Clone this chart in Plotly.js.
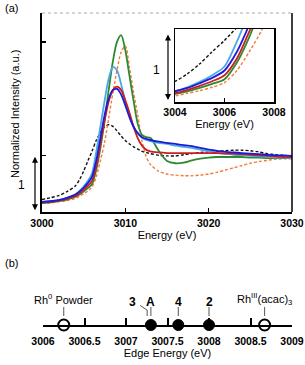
<!DOCTYPE html>
<html>
<head>
<meta charset="utf-8">
<script src="https://cdn.plot.ly/plotly-3.0.1.min.js"></script>
<style>
html,body{margin:0;padding:0;background:#fff;}
#wrap{position:relative;width:305px;height:365px;}
#chart{position:absolute;left:0;top:0;width:305px;height:365px;}
#inset{position:absolute;left:150px;top:25px;width:140px;height:110px;}
</style>
</head>
<body>
<div id="wrap"><div id="chart"></div><div id="inset"></div></div>
<script>
// ---- Data ----
var energy = [3000,3001,3002,3003,3004,3004.5,3005,3005.5,3006,3006.5,3007,3007.5,3008,3008.5,3009,3009.5,3010,3010.5,3011,3011.5,3012,3012.5,3013,3014,3015,3016,3017,3018,3019,3020,3021,3022,3023,3024,3025,3026,3027,3028,3029,3030];

var rh0Powder = [0.22,0.25,0.29,0.36,0.46, 0.57,0.72,0.90,1.07,1.26,1.40,1.50,1.54,1.51,1.43,1.34,1.26,1.20,1.15,1.11,1.07,1.05, 1.03,1.00,0.99,0.99,1.01,1.03,1.05,1.06,1.07,1.08,1.09,1.09,1.08,1.06,1.03,1.01,1.00,0.99];
var seriesSky = [0.18,0.19,0.21,0.25,0.31, 0.37,0.45,0.55,0.68,1.05,1.50,1.95,2.35,2.56,2.50,2.25,1.95,1.70,1.50,1.38,1.31,1.27, 1.25,1.22,1.20,1.17,1.15,1.13,1.10,1.07,1.05,1.03,1.01,1.00,0.99,0.98,0.97,0.96,0.96,0.95];
var seriesBlue = [0.18,0.19,0.21,0.25,0.31, 0.36,0.43,0.51,0.62,0.90,1.30,1.70,2.00,2.15,2.17,2.07,1.88,1.67,1.50,1.39,1.32,1.29, 1.27,1.24,1.22,1.20,1.18,1.16,1.13,1.10,1.08,1.06,1.05,1.04,1.03,1.02,1.01,1.00,1.00,0.99];
var seriesRed = [0.17,0.18,0.20,0.23,0.28, 0.33,0.39,0.46,0.55,0.80,1.20,1.60,1.95,2.15,2.21,2.15,1.97,1.75,1.50,1.30,1.17,1.10, 1.07,1.05,1.04,1.04,1.04,1.04,1.04,1.04,1.04,1.03,1.03,1.02,1.01,1.00,0.99,0.98,0.97,0.97];
var seriesGreen = [0.16,0.17,0.19,0.22,0.27, 0.31,0.36,0.42,0.49,0.74,1.12,1.60,2.15,2.65,3.00,3.12,2.85,2.40,1.95,1.55,1.36,1.32, 1.31,1.08,0.90,0.86,0.87,0.91,0.94,0.96,0.97,0.97,0.97,0.97,0.96,0.96,0.95,0.95,0.95,0.95];
var rhAcac = [0.15,0.16,0.18,0.20,0.24, 0.28,0.32,0.37,0.44,0.62,0.90,1.22,1.65,2.10,2.50,2.82,2.93,2.55,2.10,1.70,1.25,0.98, 0.84,0.72,0.67,0.65,0.64,0.64,0.65,0.67,0.70,0.74,0.78,0.82,0.86,0.89,0.91,0.93,0.94,0.94];

var edgeLabels = ["Rh<sup>0</sup> Powder","3","A","4","2","Rh<sup>III</sup>(acac)<sub>3</sub>"];
var refEdges = [3006.25, 3008.67];
var sampleEdges = [3007.3, 3007.63, 3008.0];
var edgeTicks = [3006,3006.5,3007,3007.5,3008,3008.5,3009];
var edgeTickText = ["3006","3006.5","3007","3007.5","3008","3008.5","3009"];
var mainTicks = [3000,3010,3020,3030];
var insetTicks = [3004,3006,3008];

// ---- Styles ----
var FONT = "Arial, 'Liberation Sans', Helvetica, sans-serif";
var styles = [
  {y: rh0Powder, color: '#111111', dash: '3px,2px', w: 1.4},
  {y: rhAcac, color: '#f47a3c', dash: '3px,2px', w: 1.4},
  {y: seriesGreen, color: '#2f8a2f', dash: 'solid', w: 1.8},
  {y: seriesSky, color: '#4aa8e8', dash: 'solid', w: 1.8},
  {y: seriesRed, color: '#cc1f1f', dash: 'solid', w: 1.8},
  {y: seriesBlue, color: '#1c1cd6', dash: 'solid', w: 1.8}
];

var traces = [];
var insetTraces = [];
styles.forEach(function(s){
  traces.push({x: energy, y: s.y, xaxis:'x', yaxis:'y', mode:'lines', type:'scatter',
    line:{color:s.color, width:s.w, dash:s.dash, shape:'spline', smoothing:0.8}, hoverinfo:'skip'});
  insetTraces.push({x: energy, y: s.y, mode:'lines', type:'scatter',
    line:{color:s.color, width:s.w, dash:s.dash, shape:'spline', smoothing:0.8}, hoverinfo:'skip'});
});
traces.push({x: refEdges, y: refEdges.map(function(){return 0;}), xaxis:'x3', yaxis:'y3', mode:'markers', type:'scatter', cliponaxis:false,
  marker:{size:11, color:'#ffffff', line:{color:'#000', width:2}}, hoverinfo:'skip'});
traces.push({x: sampleEdges, y: sampleEdges.map(function(){return 0;}), xaxis:'x3', yaxis:'y3', mode:'markers', type:'scatter', cliponaxis:false,
  marker:{size:11, color:'#000000', line:{color:'#000', width:1}}, hoverinfo:'skip'});

var W = 305, H = 365;
function px(x){return x/W;}
function py(y){return 1 - y/H;}

var tickFontBold = {family: FONT, size: 10.5, color:'#000', weight:'bold'};
var lead = {color:'#555', width:1};

var layout = {
  width: W, height: H,
  margin: {l:0, r:0, t:0, b:0},
  paper_bgcolor: '#fff', plot_bgcolor: '#fff',
  showlegend: false,
  font: {family: FONT, size: 11, color: '#000'},
  xaxis: {domain:[px(42), px(292)], anchor:'y', range:[3000,3030], tickvals:mainTicks,
    ticks:'inside', ticklen:4, tickwidth:1.5, tickcolor:'#000', showline:true, linewidth:2, linecolor:'#000',
    showgrid:false, zeroline:false, tickfont: tickFontBold,
    title:{text:'Energy (eV)', font:{family:FONT, size:11}, standoff:4}},
  yaxis: {domain:[py(212), py(13)], anchor:'x', range:[0,3.51], tickvals:[1,2,3], ticks:'inside', ticklen:4, tickwidth:1.5,
    tickcolor:'#000', showticklabels:false, showline:true, linewidth:2, linecolor:'#000', showgrid:false, zeroline:false},
  xaxis3: {domain:[px(43), px(292)], anchor:'y3', range:[3006,3009], tickvals:edgeTicks, ticktext:edgeTickText,
    ticks:'inside', ticklen:7, tickwidth:2, tickcolor:'#000', showline:true, linewidth:2, linecolor:'#000',
    showgrid:false, zeroline:false, tickfont: tickFontBold, ticklabelstandoff:5,
    title:{text:'Edge Energy (eV)', font:{family:FONT, size:11}, standoff:4}},
  yaxis3: {domain:[py(325), py(285)], anchor:'x3', range:[0,1], visible:false},
  shapes: [
    {type:'line', xref:'x domain', yref:'y domain', x0:0, x1:1, y0:1, y1:1, line:{color:'#aaaaaa', width:1, dash:'dot'}},
    {type:'line', xref:'x domain', yref:'y domain', x0:1, x1:1, y0:0, y1:1, line:{color:'#000', width:1.5}},
    {type:'line', xref:'x3', yref:'y3', x0:refEdges[0], x1:refEdges[0], y0:0.45, y1:0.225, line:lead},
    {type:'line', xref:'x3', yref:'y3', x0:refEdges[1], x1:refEdges[1], y0:0.45, y1:0.225, line:lead},
    {type:'line', xref:'x3', yref:'y3', x0:sampleEdges[0], x1:sampleEdges[0], y0:0.45, y1:0.225, line:lead},
    {type:'line', xref:'x3', yref:'y3', x0:sampleEdges[1], x1:sampleEdges[1], y0:0.45, y1:0.225, line:lead},
    {type:'line', xref:'x3', yref:'y3', x0:sampleEdges[2], x1:sampleEdges[2], y0:0.45, y1:0.225, line:lead},
    {type:'path', xref:'x3', yref:'y3', path:'M 3007.17 0.49 L 3007.255 0.37 L 3007.255 0.225', line:lead}
  ],
  annotations: [
    {xref:'paper', yref:'paper', x:px(3), y:py(8), xanchor:'left', yanchor:'middle', text:'(a)', showarrow:false, font:{family:FONT, size:11}},
    {xref:'paper', yref:'paper', x:px(3), y:py(263), xanchor:'left', yanchor:'middle', text:'(b)', showarrow:false, font:{family:FONT, size:11}},
    {xref:'paper', yref:'paper', x:px(15), y:py(114), xanchor:'center', yanchor:'middle', textangle:-90, text:'Normalized Intensity (a.u.)', showarrow:false, font:{family:FONT, size:11}},
    {xref:'paper', yref:'y', x:px(35), y:0.03, axref:'pixel', ayref:'y', ax:0, ay:1.0, text:'', showarrow:true, arrowside:'end+start', arrowhead:2, arrowsize:1, arrowwidth:1.2, arrowcolor:'#000', standoff:0, startstandoff:0},
    {xref:'paper', yref:'paper', x:px(27), y:py(185), xanchor:'right', yanchor:'middle', text:'1', showarrow:false, font:{family:FONT, size:12}},
    {xref:'paper', yref:'paper', x:px(168), y:py(100), axref:'pixel', ayref:'pixel', ax:0, ay:-67, text:'', showarrow:true, arrowside:'end+start', arrowhead:2, arrowsize:1, arrowwidth:1.2, arrowcolor:'#000', standoff:0, startstandoff:0},
    {xref:'paper', yref:'paper', x:px(162), y:py(70), xanchor:'right', yanchor:'middle', text:'1', showarrow:false, font:{family:FONT, size:12}},
    {xref:'x3', yref:'y3', x:refEdges[0], y:0.65, text:edgeLabels[0], showarrow:false, font:{family:FONT, size:11}},
    {xref:'x3', yref:'y3', x:3007.08, y:0.575, text:edgeLabels[1], showarrow:false, font:{family:FONT, size:12, weight:'bold'}},
    {xref:'x3', yref:'y3', x:sampleEdges[0], y:0.575, text:edgeLabels[2], showarrow:false, font:{family:FONT, size:12, weight:'bold'}},
    {xref:'x3', yref:'y3', x:sampleEdges[1], y:0.575, text:edgeLabels[3], showarrow:false, font:{family:FONT, size:12, weight:'bold'}},
    {xref:'x3', yref:'y3', x:sampleEdges[2], y:0.575, text:edgeLabels[4], showarrow:false, font:{family:FONT, size:12, weight:'bold'}},
    {xref:'x3', yref:'y3', x:refEdges[1], y:0.65, text:edgeLabels[5], showarrow:false, font:{family:FONT, size:11}}
  ]
};

var insetLayout = {
  width: 140, height: 110,
  margin: {l:25, r:16, t:4, b:33},
  paper_bgcolor: 'rgba(0,0,0,0)', plot_bgcolor: '#ffffff',
  showlegend: false,
  font: {family: FONT, size: 11, color: '#000'},
  xaxis: {range:[3004,3008], tickvals:insetTicks,
    ticks:'inside', ticklen:4, tickwidth:1.2, tickcolor:'#000', showline:true, mirror:true, linewidth:1.5, linecolor:'#000',
    showgrid:false, zeroline:false, tickfont: tickFontBold,
    title:{text:'Energy (eV)', font:{family:FONT, size:11}, standoff:1}},
  yaxis: {range:[0.15,1.24], showticklabels:false, ticks:'',
    showline:true, mirror:true, linewidth:1.5, linecolor:'#000', showgrid:false, zeroline:false}
};

Plotly.newPlot('chart', traces, layout, {staticPlot:true, displayModeBar:false});
Plotly.newPlot('inset', insetTraces, insetLayout, {staticPlot:true, displayModeBar:false});
</script>
</body>
</html>
